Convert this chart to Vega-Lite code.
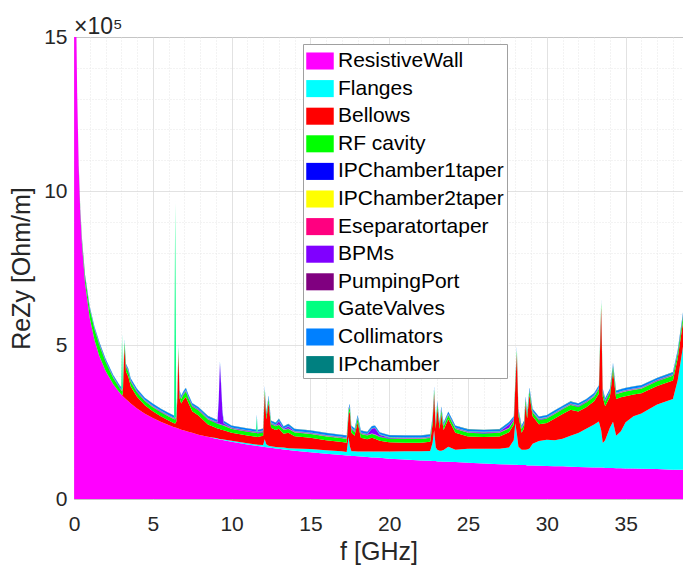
{
"$schema":"https://vega.github.io/schema/vega-lite/v6.json",
"autosize":{"type":"none"},
"width":609,"height":462,
"padding":{"left":74,"top":37,"right":0,"bottom":69},
"background":"white",
"view":{"stroke":"#8a8a8a"},
"title":{"text":"×10⁵","anchor":"start","frame":"group","fontSize":23,"font":"Liberation Sans","fontWeight":"normal","color":"#262626","offset":-13},
"datasets":{
"imp":[
{"f":0.01,"RW":5880000,"Fl":0,"Be":0,"RF":2000,"T1":1000,"T2":500,"ES":500,"BPM":500,"PP":1000,"GV":500,"Col":1000,"IP":1000},
{"f":0.1,"RW":1860000,"Fl":0,"Be":0,"RF":2000,"T1":1000,"T2":500,"ES":500,"BPM":500,"PP":1000,"GV":500,"Col":1000,"IP":1000},
{"f":0.15,"RW":1520000,"Fl":0,"Be":0,"RF":3000,"T1":1000,"T2":500,"ES":500,"BPM":500,"PP":1000,"GV":500,"Col":1000,"IP":1000},
{"f":0.2,"RW":1315000,"Fl":0,"Be":0,"RF":4000,"T1":1000,"T2":500,"ES":500,"BPM":500,"PP":1000,"GV":500,"Col":1500,"IP":1000},
{"f":0.3,"RW":1074000,"Fl":0,"Be":0,"RF":6000,"T1":1000,"T2":500,"ES":500,"BPM":500,"PP":1000,"GV":500,"Col":2000,"IP":1000},
{"f":0.4,"RW":930000,"Fl":0,"Be":0,"RF":8000,"T1":1000,"T2":500,"ES":500,"BPM":500,"PP":1000,"GV":500,"Col":2000,"IP":1000},
{"f":0.5,"RW":832000,"Fl":0,"Be":0,"RF":10000,"T1":1000,"T2":500,"ES":500,"BPM":500,"PP":1000,"GV":500,"Col":3000,"IP":1000},
{"f":0.7,"RW":703000,"Fl":0,"Be":0,"RF":18000,"T1":1000,"T2":500,"ES":500,"BPM":500,"PP":1000,"GV":500,"Col":3000,"IP":1000},
{"f":1.0,"RW":588000,"Fl":0,"Be":0,"RF":28000,"T1":1000,"T2":500,"ES":500,"BPM":500,"PP":1000,"GV":500,"Col":4000,"IP":1000},
{"f":1.3,"RW":516000,"Fl":0,"Be":0,"RF":34000,"T1":1000,"T2":500,"ES":500,"BPM":500,"PP":1000,"GV":500,"Col":5000,"IP":1000},
{"f":1.6,"RW":465000,"Fl":0,"Be":0,"RF":36000,"T1":1000,"T2":500,"ES":500,"BPM":500,"PP":1000,"GV":500,"Col":5000,"IP":1000},
{"f":2.0,"RW":416000,"Fl":0,"Be":0,"RF":30000,"T1":1000,"T2":500,"ES":500,"BPM":500,"PP":1000,"GV":500,"Col":5000,"IP":1000},
{"f":2.5,"RW":372000,"Fl":0,"Be":0,"RF":20000,"T1":1000,"T2":500,"ES":500,"BPM":500,"PP":1000,"GV":500,"Col":5000,"IP":1000},
{"f":2.9,"RW":345000,"Fl":0,"Be":0,"RF":14000,"T1":1000,"T2":500,"ES":500,"BPM":500,"PP":1000,"GV":500,"Col":5000,"IP":1000},
{"f":3.0,"RW":339000,"Fl":0,"Be":0,"RF":14000,"T1":1000,"T2":500,"ES":500,"BPM":500,"PP":1000,"GV":1000,"Col":5000,"IP":1000},
{"f":3.05,"RW":336000,"Fl":0,"Be":0,"RF":14000,"T1":1000,"T2":500,"ES":500,"BPM":500,"PP":1000,"GV":180000,"Col":5000,"IP":1000},
{"f":3.1,"RW":334000,"Fl":0,"Be":10000,"RF":14000,"T1":1000,"T2":500,"ES":500,"BPM":500,"PP":1000,"GV":1000,"Col":5000,"IP":1000},
{"f":3.2,"RW":329000,"Fl":0,"Be":165000,"RF":15000,"T1":1000,"T2":500,"ES":500,"BPM":500,"PP":1000,"GV":1000,"Col":5000,"IP":1000},
{"f":3.3,"RW":324000,"Fl":0,"Be":90000,"RF":15000,"T1":1000,"T2":500,"ES":500,"BPM":500,"PP":1000,"GV":1000,"Col":5000,"IP":1000},
{"f":3.45,"RW":317000,"Fl":0,"Be":80000,"RF":15000,"T1":1000,"T2":500,"ES":500,"BPM":500,"PP":1000,"GV":1000,"Col":5000,"IP":1000},
{"f":3.6,"RW":310000,"Fl":0,"Be":55000,"RF":15000,"T1":1000,"T2":500,"ES":500,"BPM":1000,"PP":1000,"GV":1000,"Col":6000,"IP":1000},
{"f":4.0,"RW":294000,"Fl":0,"Be":38000,"RF":14000,"T1":1000,"T2":500,"ES":500,"BPM":1000,"PP":1000,"GV":1000,"Col":6000,"IP":1000},
{"f":4.5,"RW":277000,"Fl":0,"Be":27000,"RF":13000,"T1":1000,"T2":500,"ES":500,"BPM":1000,"PP":1000,"GV":1000,"Col":6000,"IP":1000},
{"f":5.0,"RW":263000,"Fl":0,"Be":22000,"RF":13000,"T1":1000,"T2":500,"ES":500,"BPM":1000,"PP":1000,"GV":1000,"Col":6000,"IP":1000},
{"f":5.5,"RW":251000,"Fl":0,"Be":18000,"RF":13000,"T1":1000,"T2":500,"ES":500,"BPM":1000,"PP":1000,"GV":1000,"Col":6000,"IP":1000},
{"f":6.0,"RW":240000,"Fl":0,"Be":15000,"RF":13000,"T1":1000,"T2":500,"ES":500,"BPM":1000,"PP":1000,"GV":1000,"Col":6000,"IP":1000},
{"f":6.35,"RW":233000,"Fl":0,"Be":13000,"RF":13000,"T1":1000,"T2":500,"ES":500,"BPM":1000,"PP":1000,"GV":1000,"Col":6000,"IP":1000},
{"f":6.42,"RW":232000,"Fl":0,"Be":13000,"RF":13000,"T1":1000,"T2":500,"ES":500,"BPM":1000,"PP":1000,"GV":700000,"Col":6000,"IP":1000},
{"f":6.49,"RW":231000,"Fl":0,"Be":20000,"RF":13000,"T1":1000,"T2":500,"ES":500,"BPM":1000,"PP":1000,"GV":1000,"Col":6000,"IP":1000},
{"f":6.56,"RW":230000,"Fl":0,"Be":100000,"RF":13000,"T1":1000,"T2":500,"ES":500,"BPM":1000,"PP":1000,"GV":1000,"Col":6000,"IP":1000},
{"f":6.62,"RW":229000,"Fl":0,"Be":250000,"RF":14000,"T1":1000,"T2":500,"ES":500,"BPM":1000,"PP":1000,"GV":1000,"Col":6000,"IP":1000},
{"f":6.7,"RW":227000,"Fl":0,"Be":100000,"RF":14000,"T1":1000,"T2":500,"ES":500,"BPM":1000,"PP":1000,"GV":1000,"Col":6000,"IP":1000},
{"f":6.8,"RW":225000,"Fl":0,"Be":85000,"RF":14000,"T1":1000,"T2":500,"ES":500,"BPM":1000,"PP":1000,"GV":1000,"Col":6000,"IP":1000},
{"f":6.95,"RW":223000,"Fl":0,"Be":100000,"RF":16000,"T1":1000,"T2":500,"ES":500,"BPM":1000,"PP":1000,"GV":1000,"Col":6000,"IP":1000},
{"f":7.1,"RW":221000,"Fl":0,"Be":110000,"RF":18000,"T1":1000,"T2":500,"ES":500,"BPM":1000,"PP":1000,"GV":1000,"Col":6000,"IP":1000},
{"f":7.25,"RW":218000,"Fl":0,"Be":95000,"RF":16000,"T1":1000,"T2":500,"ES":500,"BPM":1000,"PP":1000,"GV":1000,"Col":6000,"IP":1000},
{"f":7.5,"RW":215000,"Fl":0,"Be":70000,"RF":15000,"T1":1000,"T2":500,"ES":500,"BPM":1000,"PP":1000,"GV":1000,"Col":6000,"IP":1000},
{"f":7.9,"RW":209000,"Fl":0,"Be":62000,"RF":16000,"T1":1000,"T2":500,"ES":500,"BPM":1000,"PP":1000,"GV":1000,"Col":6000,"IP":1000},
{"f":8.5,"RW":202000,"Fl":0,"Be":40000,"RF":16000,"T1":1000,"T2":500,"ES":500,"BPM":1000,"PP":1000,"GV":1000,"Col":6000,"IP":1000},
{"f":9.0,"RW":196000,"Fl":2000,"Be":33000,"RF":16000,"T1":1000,"T2":500,"ES":500,"BPM":1000,"PP":1000,"GV":1000,"Col":6000,"IP":1000},
{"f":9.1,"RW":195000,"Fl":2000,"Be":32000,"RF":15000,"T1":1000,"T2":500,"ES":500,"BPM":2000,"PP":1000,"GV":1000,"Col":6000,"IP":1000},
{"f":9.18,"RW":194000,"Fl":2000,"Be":32000,"RF":15000,"T1":1000,"T2":500,"ES":500,"BPM":70000,"PP":1000,"GV":1000,"Col":6000,"IP":1000},
{"f":9.26,"RW":193000,"Fl":2000,"Be":32000,"RF":15000,"T1":1000,"T2":500,"ES":500,"BPM":195000,"PP":1000,"GV":1000,"Col":6000,"IP":1000},
{"f":9.34,"RW":192000,"Fl":2000,"Be":31000,"RF":15000,"T1":1000,"T2":500,"ES":500,"BPM":120000,"PP":1000,"GV":1000,"Col":6000,"IP":1000},
{"f":9.42,"RW":192000,"Fl":2000,"Be":30000,"RF":15000,"T1":1000,"T2":500,"ES":500,"BPM":40000,"PP":1000,"GV":1000,"Col":6000,"IP":1000},
{"f":9.5,"RW":191000,"Fl":2000,"Be":30000,"RF":15000,"T1":1000,"T2":500,"ES":500,"BPM":5000,"PP":1000,"GV":1000,"Col":6000,"IP":1000},
{"f":10.0,"RW":186000,"Fl":3000,"Be":26000,"RF":12000,"T1":1000,"T2":500,"ES":500,"BPM":1000,"PP":1000,"GV":1000,"Col":6000,"IP":1000},
{"f":11.0,"RW":177000,"Fl":4000,"Be":25000,"RF":12000,"T1":1000,"T2":500,"ES":500,"BPM":1000,"PP":1000,"GV":1000,"Col":6000,"IP":1000},
{"f":11.55,"RW":173000,"Fl":4000,"Be":25000,"RF":12000,"T1":1000,"T2":500,"ES":500,"BPM":1000,"PP":1000,"GV":1000,"Col":6000,"IP":1000},
{"f":11.6,"RW":173000,"Fl":4000,"Be":25000,"RF":12000,"T1":1000,"T2":500,"ES":500,"BPM":1000,"PP":1000,"GV":50000,"Col":6000,"IP":1000},
{"f":11.65,"RW":172000,"Fl":4000,"Be":25000,"RF":12000,"T1":1000,"T2":500,"ES":500,"BPM":1000,"PP":1000,"GV":1000,"Col":6000,"IP":1000},
{"f":12.0,"RW":170000,"Fl":5000,"Be":30000,"RF":12000,"T1":1000,"T2":500,"ES":500,"BPM":1000,"PP":1000,"GV":1000,"Col":6000,"IP":1000},
{"f":12.1,"RW":169000,"Fl":25000,"Be":150000,"RF":12000,"T1":1000,"T2":500,"ES":500,"BPM":1000,"PP":1000,"GV":1000,"Col":6000,"IP":1000},
{"f":12.2,"RW":168000,"Fl":10000,"Be":80000,"RF":12000,"T1":1000,"T2":500,"ES":500,"BPM":1000,"PP":1000,"GV":1000,"Col":6000,"IP":1000},
{"f":12.35,"RW":167000,"Fl":6000,"Be":140000,"RF":12000,"T1":1000,"T2":500,"ES":500,"BPM":1000,"PP":1000,"GV":1000,"Col":6000,"IP":1000},
{"f":12.5,"RW":166000,"Fl":5000,"Be":60000,"RF":12000,"T1":1000,"T2":500,"ES":500,"BPM":1000,"PP":1000,"GV":1000,"Col":6000,"IP":1000},
{"f":12.8,"RW":164000,"Fl":5000,"Be":55000,"RF":12000,"T1":1000,"T2":500,"ES":500,"BPM":1000,"PP":1000,"GV":1000,"Col":6000,"IP":1000},
{"f":13.0,"RW":163000,"Fl":5000,"Be":60000,"RF":12000,"T1":1000,"T2":500,"ES":500,"BPM":10000,"PP":1000,"GV":1000,"Col":6000,"IP":1000},
{"f":13.3,"RW":161000,"Fl":6000,"Be":45000,"RF":12000,"T1":1000,"T2":500,"ES":500,"BPM":1000,"PP":1000,"GV":1000,"Col":6000,"IP":1000},
{"f":13.6,"RW":159000,"Fl":6000,"Be":50000,"RF":12000,"T1":1000,"T2":500,"ES":500,"BPM":6000,"PP":1000,"GV":1000,"Col":6000,"IP":1000},
{"f":14.0,"RW":157000,"Fl":7000,"Be":40000,"RF":12000,"T1":1000,"T2":500,"ES":500,"BPM":1000,"PP":1000,"GV":1000,"Col":6000,"IP":1000},
{"f":15.0,"RW":152000,"Fl":10000,"Be":37000,"RF":12000,"T1":1000,"T2":500,"ES":500,"BPM":1000,"PP":1000,"GV":1000,"Col":6000,"IP":1000},
{"f":16.0,"RW":147000,"Fl":11000,"Be":33000,"RF":12000,"T1":1000,"T2":500,"ES":500,"BPM":1000,"PP":1000,"GV":1000,"Col":6000,"IP":1000},
{"f":17.0,"RW":143000,"Fl":12000,"Be":30000,"RF":12000,"T1":1000,"T2":500,"ES":500,"BPM":1000,"PP":1000,"GV":1000,"Col":6000,"IP":1000},
{"f":17.3,"RW":141000,"Fl":12000,"Be":30000,"RF":12000,"T1":1000,"T2":500,"ES":500,"BPM":1000,"PP":1000,"GV":1000,"Col":6000,"IP":1000},
{"f":17.42,"RW":141000,"Fl":60000,"Be":70000,"RF":12000,"T1":1000,"T2":500,"ES":500,"BPM":1000,"PP":1000,"GV":1000,"Col":6000,"IP":1000},
{"f":17.5,"RW":141000,"Fl":30000,"Be":115000,"RF":12000,"T1":1000,"T2":500,"ES":500,"BPM":1000,"PP":1000,"GV":1000,"Col":6000,"IP":1000},
{"f":17.6,"RW":140000,"Fl":15000,"Be":60000,"RF":12000,"T1":1000,"T2":500,"ES":500,"BPM":1000,"PP":1000,"GV":1000,"Col":6000,"IP":1000},
{"f":17.8,"RW":140000,"Fl":15000,"Be":50000,"RF":12000,"T1":1000,"T2":500,"ES":500,"BPM":1000,"PP":1000,"GV":1000,"Col":6000,"IP":1000},
{"f":18.0,"RW":139000,"Fl":15000,"Be":95000,"RF":12000,"T1":1000,"T2":500,"ES":500,"BPM":1000,"PP":1000,"GV":1000,"Col":6000,"IP":1000},
{"f":18.2,"RW":138000,"Fl":16000,"Be":45000,"RF":12000,"T1":1000,"T2":500,"ES":500,"BPM":1000,"PP":1000,"GV":1000,"Col":6000,"IP":1000},
{"f":18.6,"RW":136000,"Fl":18000,"Be":40000,"RF":12000,"T1":1000,"T2":500,"ES":500,"BPM":1000,"PP":1000,"GV":1000,"Col":6000,"IP":1000},
{"f":18.9,"RW":135000,"Fl":19000,"Be":45000,"RF":12000,"T1":1000,"T2":500,"ES":500,"BPM":15000,"PP":1000,"GV":1000,"Col":6000,"IP":1000},
{"f":19.1,"RW":135000,"Fl":19000,"Be":42000,"RF":12000,"T1":1000,"T2":500,"ES":500,"BPM":20000,"PP":1000,"GV":1000,"Col":6000,"IP":1000},
{"f":19.4,"RW":134000,"Fl":20000,"Be":35000,"RF":12000,"T1":1000,"T2":500,"ES":500,"BPM":5000,"PP":1000,"GV":1000,"Col":6000,"IP":1000},
{"f":20.0,"RW":131000,"Fl":23000,"Be":30000,"RF":12000,"T1":1000,"T2":500,"ES":500,"BPM":1000,"PP":1000,"GV":1000,"Col":6000,"IP":1000},
{"f":21.0,"RW":128000,"Fl":27000,"Be":28000,"RF":12000,"T1":1000,"T2":500,"ES":500,"BPM":1000,"PP":1000,"GV":1000,"Col":6000,"IP":1000},
{"f":22.0,"RW":125000,"Fl":30000,"Be":28000,"RF":12000,"T1":1000,"T2":500,"ES":500,"BPM":1000,"PP":1000,"GV":1000,"Col":6000,"IP":1000},
{"f":22.6,"RW":124000,"Fl":32000,"Be":30000,"RF":12000,"T1":1000,"T2":500,"ES":500,"BPM":1000,"PP":1000,"GV":1000,"Col":6000,"IP":1000},
{"f":22.75,"RW":123000,"Fl":60000,"Be":60000,"RF":12000,"T1":1000,"T2":500,"ES":500,"BPM":1000,"PP":1000,"GV":1000,"Col":6000,"IP":1000},
{"f":22.85,"RW":123000,"Fl":100000,"Be":120000,"RF":12000,"T1":1000,"T2":500,"ES":500,"BPM":1000,"PP":1000,"GV":1000,"Col":6000,"IP":1000},
{"f":22.95,"RW":123000,"Fl":45000,"Be":60000,"RF":12000,"T1":1000,"T2":500,"ES":500,"BPM":1000,"PP":1000,"GV":1000,"Col":6000,"IP":1000},
{"f":23.05,"RW":122000,"Fl":38000,"Be":135000,"RF":12000,"T1":1000,"T2":500,"ES":500,"BPM":1000,"PP":1000,"GV":1000,"Col":6000,"IP":1000},
{"f":23.2,"RW":122000,"Fl":35000,"Be":70000,"RF":12000,"T1":1000,"T2":500,"ES":500,"BPM":1000,"PP":1000,"GV":1000,"Col":6000,"IP":1000},
{"f":23.3,"RW":122000,"Fl":35000,"Be":120000,"RF":12000,"T1":1000,"T2":500,"ES":500,"BPM":1000,"PP":1000,"GV":1000,"Col":6000,"IP":1000},
{"f":23.45,"RW":121000,"Fl":38000,"Be":65000,"RF":12000,"T1":1000,"T2":500,"ES":500,"BPM":1000,"PP":1000,"GV":1000,"Col":6000,"IP":1000},
{"f":23.75,"RW":121000,"Fl":49000,"Be":90000,"RF":12000,"T1":1000,"T2":500,"ES":500,"BPM":1000,"PP":1000,"GV":1000,"Col":6000,"IP":1000},
{"f":24.2,"RW":120000,"Fl":40000,"Be":55000,"RF":12000,"T1":1000,"T2":500,"ES":500,"BPM":1000,"PP":1000,"GV":1000,"Col":6000,"IP":1000},
{"f":25.0,"RW":118000,"Fl":45000,"Be":40000,"RF":12000,"T1":1000,"T2":500,"ES":500,"BPM":1000,"PP":1000,"GV":1000,"Col":6000,"IP":1000},
{"f":26.0,"RW":115000,"Fl":48000,"Be":38000,"RF":12000,"T1":1000,"T2":500,"ES":500,"BPM":1000,"PP":1000,"GV":1000,"Col":6000,"IP":1000},
{"f":27.0,"RW":113000,"Fl":50000,"Be":40000,"RF":12000,"T1":1000,"T2":500,"ES":500,"BPM":1000,"PP":1000,"GV":1000,"Col":6000,"IP":1000},
{"f":27.6,"RW":112000,"Fl":55000,"Be":50000,"RF":12000,"T1":1000,"T2":500,"ES":500,"BPM":10000,"PP":1000,"GV":1000,"Col":6000,"IP":1000},
{"f":27.9,"RW":111000,"Fl":80000,"Be":50000,"RF":12000,"T1":1000,"T2":500,"ES":500,"BPM":5000,"PP":1000,"GV":1000,"Col":6000,"IP":1000},
{"f":28.0,"RW":111000,"Fl":135000,"Be":120000,"RF":12000,"T1":1000,"T2":500,"ES":500,"BPM":1000,"PP":1000,"GV":1000,"Col":6000,"IP":1000},
{"f":28.1,"RW":111000,"Fl":100000,"Be":260000,"RF":12000,"T1":1000,"T2":500,"ES":500,"BPM":1000,"PP":1000,"GV":1000,"Col":6000,"IP":1000},
{"f":28.2,"RW":110000,"Fl":60000,"Be":100000,"RF":12000,"T1":1000,"T2":500,"ES":500,"BPM":1000,"PP":1000,"GV":1000,"Col":6000,"IP":1000},
{"f":28.4,"RW":110000,"Fl":50000,"Be":55000,"RF":12000,"T1":1000,"T2":500,"ES":500,"BPM":1000,"PP":1000,"GV":1000,"Col":6000,"IP":1000},
{"f":28.55,"RW":110000,"Fl":50000,"Be":70000,"RF":12000,"T1":1000,"T2":500,"ES":500,"BPM":1000,"PP":1000,"GV":1000,"Col":6000,"IP":1000},
{"f":28.65,"RW":110000,"Fl":50000,"Be":150000,"RF":12000,"T1":1000,"T2":500,"ES":500,"BPM":1000,"PP":1000,"GV":1000,"Col":6000,"IP":1000},
{"f":28.75,"RW":109000,"Fl":52000,"Be":100000,"RF":12000,"T1":1000,"T2":500,"ES":500,"BPM":1000,"PP":1000,"GV":1000,"Col":6000,"IP":1000},
{"f":28.9,"RW":109000,"Fl":55000,"Be":175000,"RF":12000,"T1":1000,"T2":500,"ES":500,"BPM":1000,"PP":1000,"GV":1000,"Col":6000,"IP":1000},
{"f":29.1,"RW":109000,"Fl":70000,"Be":90000,"RF":12000,"T1":1000,"T2":500,"ES":500,"BPM":1000,"PP":1000,"GV":1000,"Col":6000,"IP":1000},
{"f":29.5,"RW":108000,"Fl":80000,"Be":55000,"RF":13000,"T1":1000,"T2":500,"ES":500,"BPM":1000,"PP":1000,"GV":1000,"Col":6000,"IP":1000},
{"f":30.0,"RW":107000,"Fl":85000,"Be":55000,"RF":14000,"T1":1000,"T2":500,"ES":500,"BPM":1000,"PP":1000,"GV":1000,"Col":6000,"IP":1000},
{"f":30.5,"RW":106000,"Fl":85000,"Be":70000,"RF":15000,"T1":1000,"T2":500,"ES":500,"BPM":1000,"PP":1000,"GV":1000,"Col":6000,"IP":1000},
{"f":31.0,"RW":106000,"Fl":90000,"Be":80000,"RF":15000,"T1":1000,"T2":500,"ES":500,"BPM":1000,"PP":1000,"GV":1000,"Col":6000,"IP":1000},
{"f":31.5,"RW":105000,"Fl":100000,"Be":85000,"RF":15000,"T1":1000,"T2":500,"ES":500,"BPM":1000,"PP":1000,"GV":1000,"Col":6000,"IP":1000},
{"f":32.0,"RW":104000,"Fl":110000,"Be":70000,"RF":15000,"T1":1000,"T2":500,"ES":500,"BPM":1000,"PP":1000,"GV":1000,"Col":6000,"IP":1000},
{"f":32.5,"RW":103000,"Fl":125000,"Be":70000,"RF":15000,"T1":1000,"T2":500,"ES":500,"BPM":1000,"PP":1000,"GV":1000,"Col":6000,"IP":1000},
{"f":33.0,"RW":102000,"Fl":140000,"Be":75000,"RF":15000,"T1":1000,"T2":500,"ES":500,"BPM":1000,"PP":1000,"GV":1000,"Col":6000,"IP":1000},
{"f":33.3,"RW":102000,"Fl":150000,"Be":90000,"RF":15000,"T1":1000,"T2":500,"ES":500,"BPM":1000,"PP":1000,"GV":1000,"Col":6000,"IP":1000},
{"f":33.45,"RW":102000,"Fl":120000,"Be":400000,"RF":15000,"T1":1000,"T2":500,"ES":500,"BPM":1000,"PP":1000,"GV":1000,"Col":6000,"IP":1000},
{"f":33.55,"RW":102000,"Fl":80000,"Be":150000,"RF":15000,"T1":1000,"T2":500,"ES":500,"BPM":1000,"PP":1000,"GV":1000,"Col":6000,"IP":1000},
{"f":33.7,"RW":101000,"Fl":90000,"Be":110000,"RF":15000,"T1":1000,"T2":500,"ES":500,"BPM":1000,"PP":1000,"GV":1000,"Col":6000,"IP":1000},
{"f":34.0,"RW":101000,"Fl":130000,"Be":100000,"RF":15000,"T1":1000,"T2":500,"ES":500,"BPM":1000,"PP":1000,"GV":1000,"Col":6000,"IP":1000},
{"f":34.2,"RW":100500,"Fl":150000,"Be":165000,"RF":15000,"T1":1000,"T2":500,"ES":500,"BPM":1000,"PP":1000,"GV":1000,"Col":6000,"IP":1000},
{"f":34.4,"RW":100000,"Fl":105000,"Be":120000,"RF":15000,"T1":1000,"T2":500,"ES":500,"BPM":1000,"PP":1000,"GV":1000,"Col":6000,"IP":1000},
{"f":34.7,"RW":100000,"Fl":120000,"Be":110000,"RF":15000,"T1":1000,"T2":500,"ES":500,"BPM":1000,"PP":1000,"GV":1000,"Col":6000,"IP":1000},
{"f":35.0,"RW":99000,"Fl":150000,"Be":85000,"RF":15000,"T1":1000,"T2":500,"ES":500,"BPM":1000,"PP":1000,"GV":1000,"Col":6000,"IP":1000},
{"f":35.5,"RW":99000,"Fl":170000,"Be":70000,"RF":15000,"T1":1000,"T2":500,"ES":500,"BPM":1000,"PP":1000,"GV":1000,"Col":6000,"IP":1000},
{"f":36.0,"RW":98000,"Fl":180000,"Be":65000,"RF":15000,"T1":1000,"T2":500,"ES":500,"BPM":1000,"PP":1000,"GV":1000,"Col":6000,"IP":1000},
{"f":37.0,"RW":97000,"Fl":210000,"Be":60000,"RF":15000,"T1":1000,"T2":500,"ES":500,"BPM":1000,"PP":1000,"GV":1000,"Col":6000,"IP":1000},
{"f":38.0,"RW":95000,"Fl":230000,"Be":60000,"RF":15000,"T1":1000,"T2":500,"ES":500,"BPM":1000,"PP":1000,"GV":1000,"Col":6000,"IP":1000},
{"f":38.3,"RW":95000,"Fl":290000,"Be":70000,"RF":16000,"T1":1000,"T2":500,"ES":500,"BPM":1000,"PP":1000,"GV":1000,"Col":6000,"IP":1000},
{"f":38.64,"RW":95000,"Fl":400000,"Be":80000,"RF":18000,"T1":1000,"T2":500,"ES":500,"BPM":1000,"PP":1000,"GV":1000,"Col":7000,"IP":1000}
]
},
"data":{"name":"imp"},
"transform":[
{"fold":["RW","Fl","Be","RF","T1","T2","ES","BPM","PP","GV","Col","IP"],"as":["k","Z"]},
{"lookup":"k","from":{"data":{"values":[
{"k":"RW","series":"ResistiveWall","rank":1},
{"k":"Fl","series":"Flanges","rank":2},
{"k":"Be","series":"Bellows","rank":3},
{"k":"RF","series":"RF cavity","rank":4},
{"k":"T1","series":"IPChamber1taper","rank":5},
{"k":"T2","series":"IPChamber2taper","rank":6},
{"k":"ES","series":"Eseparatortaper","rank":7},
{"k":"BPM","series":"BPMs","rank":8},
{"k":"PP","series":"PumpingPort","rank":9},
{"k":"GV","series":"GateValves","rank":10},
{"k":"Col","series":"Collimators","rank":11},
{"k":"IP","series":"IPchamber","rank":12}
]},"key":"k","fields":["series","rank"]}}
],
"mark":{"type":"area","clip":true,"interpolate":"linear"},
"encoding":{
"x":{"field":"f","type":"quantitative","scale":{"domain":[0,38.64],"nice":false,"zero":false},
"axis":{"title":"f [GHz]","values":[0,1,2,3,4,5,6,7,8,9,10,11,12,13,14,15,16,17,18,19,20,21,22,23,24,25,26,27,28,29,30,31,32,33,34,35,36,37,38],
"labelExpr":"datum.value % 5 === 0 ? datum.label : ''","labelOverlap":false,"labelBound":false,"labelFlush":false,
"grid":true,"gridColor":{"condition":{"test":"datum.value % 5 === 0","value":"#d9d9d9"},"value":"#e6e6e6"},
"gridDash":{"condition":{"test":"datum.value % 5 === 0","value":[1,0]},"value":[1,2]},
"ticks":false,"domain":false,"labelFontSize":21,"labelPadding":14,"labelColor":"#262626","labelFont":"Liberation Sans",
"titleFontSize":25,"titleFont":"Liberation Sans","titleFontWeight":"normal","titleColor":"#262626","titlePadding":5}},
"y":{"field":"Z","type":"quantitative","stack":"zero","scale":{"domain":[0,1500000],"nice":false},
"axis":{"title":"ReZy [Ohm/m]","values":[0,100000,200000,300000,400000,500000,600000,700000,800000,900000,1000000,1100000,1200000,1300000,1400000,1500000],
"labelExpr":"datum.value % 500000 === 0 ? format(datum.value/100000,'d') : ''","labelOverlap":false,"labelBound":false,"labelFlush":false,
"grid":true,"gridColor":{"condition":{"test":"datum.value % 500000 === 0","value":"#d9d9d9"},"value":"#e6e6e6"},
"gridDash":{"condition":{"test":"datum.value % 500000 === 0","value":[1,0]},"value":[1,2]},
"ticks":false,"domain":false,"labelFontSize":21,"labelPadding":7,"labelColor":"#262626","labelFont":"Liberation Sans",
"titleFontSize":25,"titleFont":"Liberation Sans","titleFontWeight":"normal","titleColor":"#262626","titlePadding":9}},
"color":{"field":"series","type":"nominal",
"scale":{"domain":["ResistiveWall","Flanges","Bellows","RF cavity","IPChamber1taper","IPChamber2taper","Eseparatortaper","BPMs","PumpingPort","GateValves","Collimators","IPchamber"],
"range":["#ff00ff","#00ffff","#ff0000","#00ff00","#0000ff","#ffff00","#ff0080","#8000ff","#800080","#00ff80","#0080ff","#008080"]},
"legend":{"title":null,"orient":"none","legendX":229,"legendY":7,"padding":3,"rowPadding":3.6,
"symbolType":"M-1,-0.62H1V0.62H-1Z","symbolSize":756,"symbolStrokeWidth":0,
"labelFont":"Liberation Sans","labelFontSize":21,"labelColor":"#000000","labelOffset":4,"labelLimit":300,
"fillColor":"white","strokeColor":"#a0a0a0"}},
"order":{"field":"rank","type":"quantitative"}
}
}
